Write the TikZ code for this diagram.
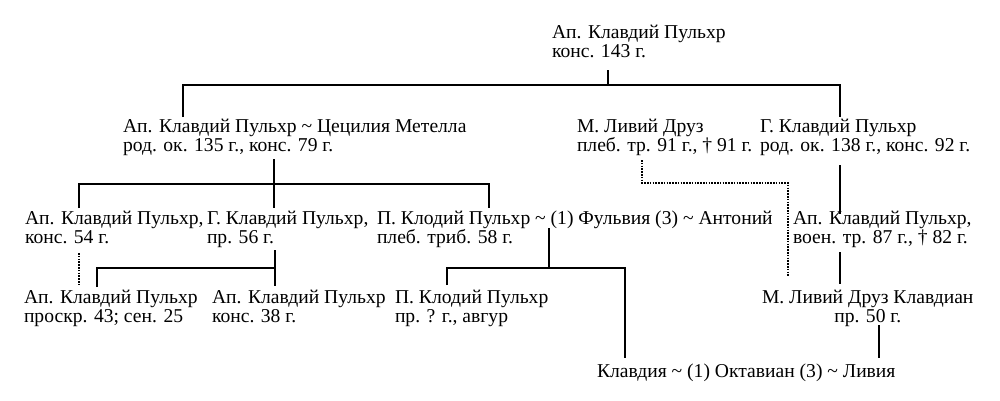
\documentclass[tikz,border=0pt]{standalone}
\usepackage{fontspec}
\setmainfont{Liberation Serif}
\begin{document}
\begin{tikzpicture}[x=1pt,y=-1pt,
  person/.style={anchor=base west,inner sep=0pt,outer sep=0pt,font=\fontsize{19.6}{19.7}\selectfont},
  link/.style={line width=2.2pt},
  dotlink/.style={line width=2pt,dash pattern=on 1.5pt off 1.3pt}]
\useasboundingbox (0,0) rectangle (1000,400);
\newcommand{\lines}[1]{\begin{tabular}[t]{@{}l@{}}#1\end{tabular}}
\newcommand{\clines}[1]{\begin{tabular}[t]{@{}c@{}}#1\end{tabular}}
% nodes
\node[person] (top) at (552,38) {\lines{Ап. Клавдий Пульхр\\конс. 143 г.}};
\node[person] (apm) at (123,132) {\lines{Ап. Клавдий Пульхр \textasciitilde{} Цецилия Метелла\\род. ок. 135 г., конс. 79 г.}};
\node[person] (drus) at (577,132) {\lines{М. Ливий Друз\\плеб. тр. 91 г., † 91 г.}};
\node[person] (gcp) at (760,132) {\lines{Г. Клавдий Пульхр\\род. ок. 138 г., конс. 92 г.}};
\node[person] (ap54) at (25,224) {\lines{Ап. Клавдий Пульхр,\\конс. 54 г.}};
\node[person] (g56) at (207,224) {\lines{Г. Клавдий Пульхр,\\пр. 56 г.}};
\node[person] (clod) at (377,224) {\lines{П. Клодий Пульхр \textasciitilde{} (1) Фульвия (3) \textasciitilde{} Антоний\\плеб. триб. 58 г.}};
\node[person] (ap87) at (793,224) {\lines{Ап. Клавдий Пульхр,\\воен. тр. 87 г., † 82 г.}};
\node[person] (ap43) at (24,303) {\lines{Ап. Клавдий Пульхр\\проскр. 43; сен. 25}};
\node[person] (ap38) at (212,303) {\lines{Ап. Клавдий Пульхр\\конс. 38 г.}};
\node[person] (pcl) at (395,303) {\lines{П. Клодий Пульхр\\пр. ? г., авгур}};
\node[person] (mld) at (762,303) {\clines{М. Ливий Друз Клавдиан\\пр. 50 г.}};
\node[person] (cla) at (597,377) {Клавдия \textasciitilde{} (1) Октавиан (3) \textasciitilde{} Ливия};
% junction coordinates
\coordinate (t0) at (608,70);
\coordinate (t1) at (608,85);
\coordinate (a0) at (183,117);
\coordinate (g0) at (840,117);
\coordinate (m0) at (274,159);
\coordinate (m1) at (274,184);
\coordinate (k1) at (79,208);
\coordinate (k2) at (274,208);
\coordinate (k3) at (489,208);
\coordinate (d0) at (642,160);
\coordinate (dc) at (788,183);
\coordinate (d1) at (788,277);
\coordinate (r0) at (840,165);
\coordinate (r1) at (840,214);
\coordinate (s0) at (79,253);
\coordinate (s1) at (79,286);
\coordinate (q0) at (275,250);
\coordinate (q1) at (275,286);
\coordinate (qm) at (275,268);
\coordinate (q2) at (97,287);
\coordinate (c0) at (549,228);
\coordinate (c1) at (549,268);
\coordinate (c2) at (447,285);
\coordinate (c3) at (625,358);
\coordinate (v0) at (840,252);
\coordinate (v1) at (840,284);
\coordinate (w0) at (879,325);
\coordinate (w1) at (879,358);
% connectors
\draw[link] (t0) -- (t1);
\draw[link] (a0) |- (t1) -| (g0);
\draw[link] (m0) -- (m1);
\draw[link] (k1) |- (m1) -| (k3);
\draw[link] (m1) -- (k2);
\draw[dotlink] (d0) |- (dc) -- (d1);
\draw[link] (r0) -- (r1);
\draw[dotlink] (s0) -- (s1);
\draw[link] (q0) -- (q1);
\draw[link] (q2) |- (qm);
\draw[link] (c0) -- (c1);
\draw[link] (c2) |- (c1) -| (c3);
\draw[link] (v0) -- (v1);
\draw[link] (w0) -- (w1);
\end{tikzpicture}
\end{document}
